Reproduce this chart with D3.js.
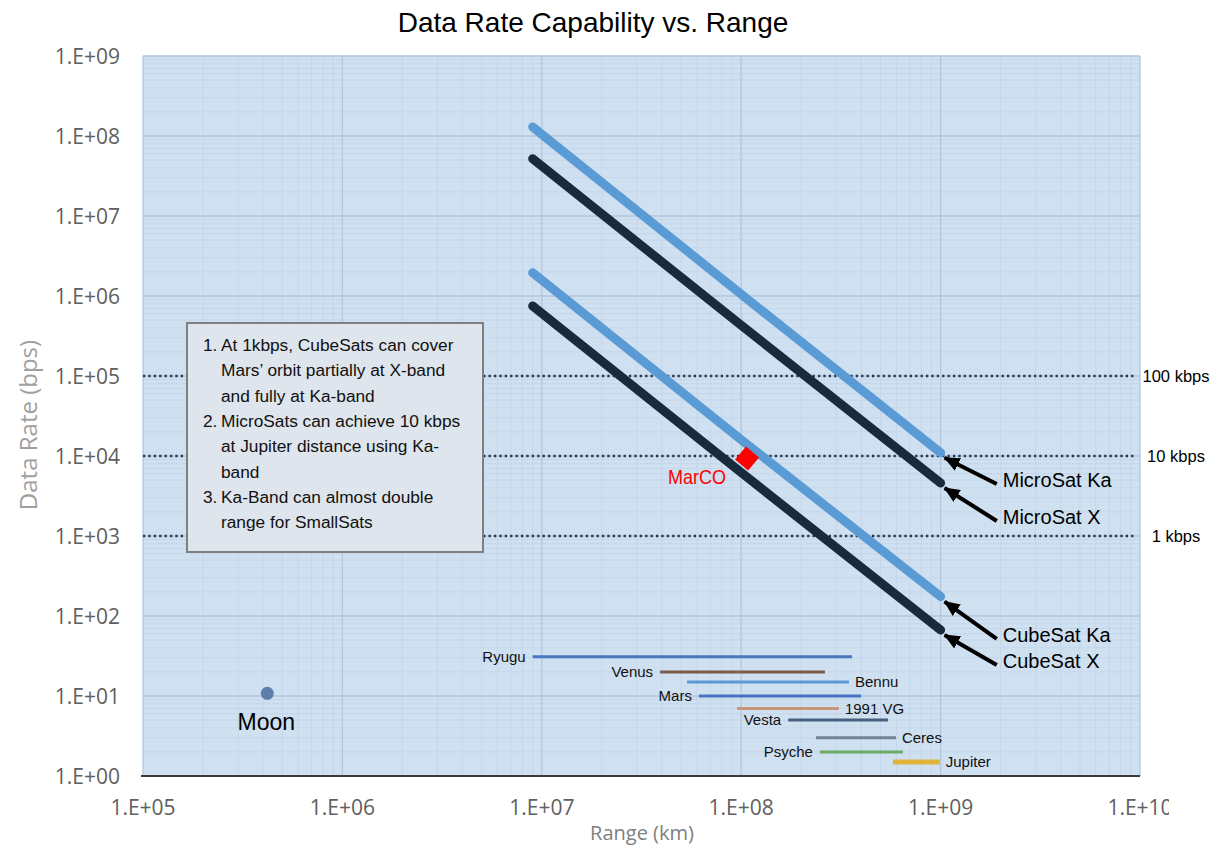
<!DOCTYPE html>
<html>
<head>
<meta charset="utf-8">
<script src="https://cdn.jsdelivr.net/npm/d3@7"></script>
<style>
  body { margin: 0; background: #fff; }
  svg { display: block; }
</style>
</head>
<body>
<script>
// Axis ticks
const xTicks = [1e5, 1e6, 1e7, 1e8, 1e9, 1e10];
const xTickLabels = ["1.E+05", "1.E+06", "1.E+07", "1.E+08", "1.E+09", "1.E+10"];
const yTicks = [1e0, 1e1, 1e2, 1e3, 1e4, 1e5, 1e6, 1e7, 1e8, 1e9];
const yTickLabels = ["1.E+00", "1.E+01", "1.E+02", "1.E+03", "1.E+04", "1.E+05", "1.E+06", "1.E+07", "1.E+08", "1.E+09"];

// Link capability lines: [range km, data rate bps]
const microSatKa = [[9e6, 1.3e8], [1e8, 1.05e6], [1e9, 1.1e4]];
const microSatX  = [[9e6, 5.2e7], [1e8, 4.3e5], [1e9, 4.6e3]];
const cubeSatKa  = [[9e6, 1.95e6], [1e8, 1.6e4], [1e9, 175]];
const cubeSatX   = [[9e6, 7.5e5], [1e8, 6.2e3], [1e9, 67]];
const seriesNames = ["MicroSat Ka", "MicroSat X", "CubeSat Ka", "CubeSat X"];
const seriesValues = [microSatKa, microSatX, cubeSatKa, cubeSatX];
const seriesBands = ["Ka", "X", "Ka", "X"];
const seriesLabelRate = [5.0e3, 1.73e3, 58, 27.4];

// Reference rate levels
const rateLevels = [1e5, 1e4, 1e3];
const rateLabels = ["100 kbps", "10 kbps", "1 kbps"];

// Target distance ranges from Earth (km), drawn at a rate row
const bodies = ["Ryugu", "Venus", "Bennu", "Mars", "1991 VG", "Vesta", "Ceres", "Psyche", "Jupiter"];
const bodyMin = [9.0e6, 3.92e7, 5.35e7, 6.14e7, 9.53e7, 1.72e8, 2.37e8, 2.48e8, 5.77e8];
const bodyMax = [3.6e8, 2.63e8, 3.47e8, 3.99e8, 3.09e8, 5.45e8, 5.97e8, 6.47e8, 9.9e8];
const bodyRow = [31, 20, 15, 10, 7, 5, 3, 2, 1.5];
const bodyLabelSide = ["left", "left", "right", "left", "right", "left", "right", "left", "right"];
const bodyColors = ["#4a78c0", "#7d5b4f", "#5b9bd5", "#4472c4", "#c8957a", "#46607f", "#718396", "#6aaa68", "#e0b438"];

const marco = [1.07e8, 9.3e3];
const moon = [4.2e5, 10.8];

const notes = [
  ["At 1kbps, CubeSats can cover", "Mars\u2019 orbit partially at X-band", "and fully at Ka-band"],
  ["MicroSats can achieve 10 kbps", "at Jupiter distance using Ka-", "band"],
  ["Ka-Band can almost double", "range for SmallSats"]
];

const W = 1214, H = 850;
const plot = { left: 143, right: 1140, top: 56, bottom: 776 };

const svg = d3.select("body").append("svg")
  .attr("width", W)
  .attr("height", H)
  .style("background", "#fff");

const x = d3.scaleLog().domain([1e5, 1e10]).range([plot.left, plot.right]);
const y = d3.scaleLog().domain([1, 1e9]).range([plot.bottom, plot.top]);

// plot background
svg.append("rect")
  .attr("x", plot.left).attr("y", plot.top)
  .attr("width", plot.right - plot.left)
  .attr("height", plot.bottom - plot.top)
  .attr("fill", "#cfe0f1");

// minor grid
const minorX = [], minorY = [];
for (let e = 5; e < 10; e++) for (let m = 2; m < 10; m++) minorX.push(m * Math.pow(10, e));
for (let e = 0; e < 9; e++) for (let m = 2; m < 10; m++) minorY.push(m * Math.pow(10, e));

const grid = svg.append("g");
grid.selectAll(".mx").data(minorX).join("line")
  .attr("x1", d => x(d)).attr("x2", d => x(d))
  .attr("y1", plot.top).attr("y2", plot.bottom)
  .attr("stroke", "#c4d6ea").attr("stroke-width", 1);
grid.selectAll(".my").data(minorY).join("line")
  .attr("y1", d => y(d)).attr("y2", d => y(d))
  .attr("x1", plot.left).attr("x2", plot.right)
  .attr("stroke", "#c4d6ea").attr("stroke-width", 1);
grid.selectAll(".Mx").data(xTicks).join("line")
  .attr("x1", d => x(d)).attr("x2", d => x(d))
  .attr("y1", plot.top).attr("y2", plot.bottom)
  .attr("stroke", "#b3c6db").attr("stroke-width", 1.3);
grid.selectAll(".My").data(yTicks).join("line")
  .attr("y1", d => y(d)).attr("y2", d => y(d))
  .attr("x1", plot.left).attr("x2", plot.right)
  .attr("stroke", "#b3c6db").attr("stroke-width", 1.3);

// bottom axis line
svg.append("line")
  .attr("x1", plot.left - 2).attr("x2", plot.right)
  .attr("y1", plot.bottom).attr("y2", plot.bottom)
  .attr("stroke", "#3a3a3a").attr("stroke-width", 2);

// tick labels
svg.append("clipPath").attr("id", "xclip")
  .append("rect").attr("x", 0).attr("y", 780).attr("width", 1169).attr("height", 60);

svg.append("g").attr("clip-path", "url(#xclip)")
  .selectAll("text").data(xTicks).join("text")
  .attr("x", d => x(d))
  .attr("y", 815)
  .attr("text-anchor", "middle")
  .attr("font-family", "'Open Sans', sans-serif")
  .attr("font-size", 21)
  .attr("fill", "#606060")
  .text((d, i) => xTickLabels[i]);

svg.append("g")
  .selectAll("text").data(yTicks).join("text")
  .attr("x", 120)
  .attr("y", d => y(d))
  .attr("dy", "0.36em")
  .attr("text-anchor", "end")
  .attr("font-family", "'Open Sans', sans-serif")
  .attr("font-size", 21)
  .attr("fill", "#606060")
  .text((d, i) => yTickLabels[i]);

// axis titles
svg.append("text")
  .attr("x", 642).attr("y", 840)
  .attr("text-anchor", "middle")
  .attr("font-family", "'Open Sans', sans-serif")
  .attr("font-size", 20)
  .attr("fill", "#808080")
  .text("Range (km)");

svg.append("text")
  .attr("transform", "translate(29,425) rotate(-90)")
  .attr("text-anchor", "middle")
  .attr("dy", "0.35em")
  .attr("font-family", "'Open Sans', sans-serif")
  .attr("font-size", 24)
  .attr("fill", "#a0a0a0")
  .text("Data Rate (bps)");

// title
svg.append("text")
  .attr("x", 593).attr("y", 32)
  .attr("text-anchor", "middle")
  .attr("font-family", "'Liberation Sans', Arial, sans-serif")
  .attr("font-size", 28)
  .attr("fill", "#000")
  .text("Data Rate Capability vs. Range");

// reference rate levels (dotted)
svg.append("g").selectAll("line").data(rateLevels).join("line")
  .attr("x1", plot.left).attr("x2", 1135)
  .attr("y1", d => y(d)).attr("y2", d => y(d))
  .attr("stroke", "#22344a")
  .attr("stroke-width", 2.4)
  .attr("stroke-dasharray", "2.2 3.2");

svg.append("g").selectAll("text").data(rateLevels).join("text")
  .attr("x", 1176)
  .attr("y", d => y(d))
  .attr("dy", "0.36em")
  .attr("text-anchor", "middle")
  .attr("font-family", "'Liberation Sans', Arial, sans-serif")
  .attr("font-size", 16.5)
  .attr("fill", "#000")
  .text((d, i) => rateLabels[i]);

// capability lines
const line = d3.line().x(d => x(d[0])).y(d => y(d[1]));
svg.append("g").selectAll("path").data(seriesValues).join("path")
  .attr("d", line)
  .attr("fill", "none")
  .attr("stroke", (d, i) => seriesBands[i] === "Ka" ? "#5b9bd5" : "#172a3e")
  .attr("stroke-width", 9)
  .attr("stroke-linecap", "round");

// body range bars
const bodyG = svg.append("g");
bodies.forEach((name, i) => {
  const yy = y(bodyRow[i]);
  bodyG.append("line")
    .attr("x1", x(bodyMin[i])).attr("x2", x(bodyMax[i]))
    .attr("y1", yy).attr("y2", yy)
    .attr("stroke", bodyColors[i])
    .attr("stroke-width", name === "Jupiter" ? 5 : 3);
  const left = bodyLabelSide[i] === "left";
  bodyG.append("text")
    .attr("x", left ? x(bodyMin[i]) - 7 : x(bodyMax[i]) + 6)
    .attr("y", yy)
    .attr("dy", "0.36em")
    .attr("text-anchor", left ? "end" : "start")
    .attr("font-family", "'Liberation Sans', Arial, sans-serif")
    .attr("font-size", 15)
    .attr("fill", "#111")
    .text(name);
});

// Moon
svg.append("circle")
  .attr("cx", x(moon[0])).attr("cy", y(moon[1]))
  .attr("r", 6.5)
  .attr("fill", "#5b7fa8");
svg.append("text")
  .attr("x", x(moon[0]) - 1).attr("y", y(moon[1]) + 37)
  .attr("text-anchor", "middle")
  .attr("font-family", "'Liberation Sans', Arial, sans-serif")
  .attr("font-size", 23)
  .attr("fill", "#000")
  .text("Moon");

// MarCO
svg.append("path")
  .attr("d", d3.symbol().type(d3.symbolSquare).size(290)())
  .attr("transform", `translate(${x(marco[0])},${y(marco[1])}) rotate(40)`)
  .attr("fill", "#ff0000");
svg.append("text")
  .attr("x", x(marco[0]) - 79).attr("y", y(marco[1]) + 25)
  .attr("font-family", "'Liberation Sans', Arial, sans-serif")
  .attr("font-size", 21)
  .attr("textLength", 58)
  .attr("lengthAdjust", "spacingAndGlyphs")
  .attr("fill", "#ff0000")
  .text("MarCO");

// arrows to line ends
svg.append("defs").append("marker")
  .attr("id", "head")
  .attr("markerUnits", "userSpaceOnUse")
  .attr("viewBox", "0 0 16 14")
  .attr("refX", 15).attr("refY", 7)
  .attr("markerWidth", 16).attr("markerHeight", 14)
  .attr("orient", "auto")
  .append("path")
  .attr("d", "M0,0 L16,7 L0,14 Z")
  .attr("fill", "#000");

const annG = svg.append("g");
seriesValues.forEach((s, i) => {
  const end = s[s.length - 1];
  const tipX = x(end[0]) + 4, tipY = y(end[1]) + 5;
  const lx = x(2.05e9), ly = y(seriesLabelRate[i]);
  annG.append("line")
    .attr("x1", lx - 6).attr("y1", ly + 4)
    .attr("x2", tipX).attr("y2", tipY)
    .attr("stroke", "#000")
    .attr("stroke-width", 4)
    .attr("marker-end", "url(#head)");
  annG.append("text")
    .attr("x", lx).attr("y", ly)
    .attr("dy", "0.36em")
    .attr("font-family", "'Liberation Sans', Arial, sans-serif")
    .attr("font-size", 20)
    .attr("fill", "#000")
    .text(seriesNames[i]);
});

// notes box
const box = svg.append("g");
box.append("rect")
  .attr("x", 187).attr("y", 323)
  .attr("width", 296).attr("height", 229)
  .attr("fill", "#dfe5ec")
  .attr("stroke", "#7f7f7f")
  .attr("stroke-width", 2);
let row = 0;
notes.forEach((item, i) => {
  item.forEach((txt, j) => {
    const yy = 351 + row * 25.3;
    if (j === 0) {
      box.append("text")
        .attr("x", 203).attr("y", yy)
        .attr("font-family", "'Liberation Sans', Arial, sans-serif")
        .attr("font-size", 17.3)
        .attr("fill", "#111")
        .text((i + 1) + ".");
    }
    box.append("text")
      .attr("x", 221).attr("y", yy)
      .attr("font-family", "'Liberation Sans', Arial, sans-serif")
      .attr("font-size", 17.3)
      .attr("fill", "#111")
      .text(txt);
    row++;
  });
});
</script>
</body>
</html>
